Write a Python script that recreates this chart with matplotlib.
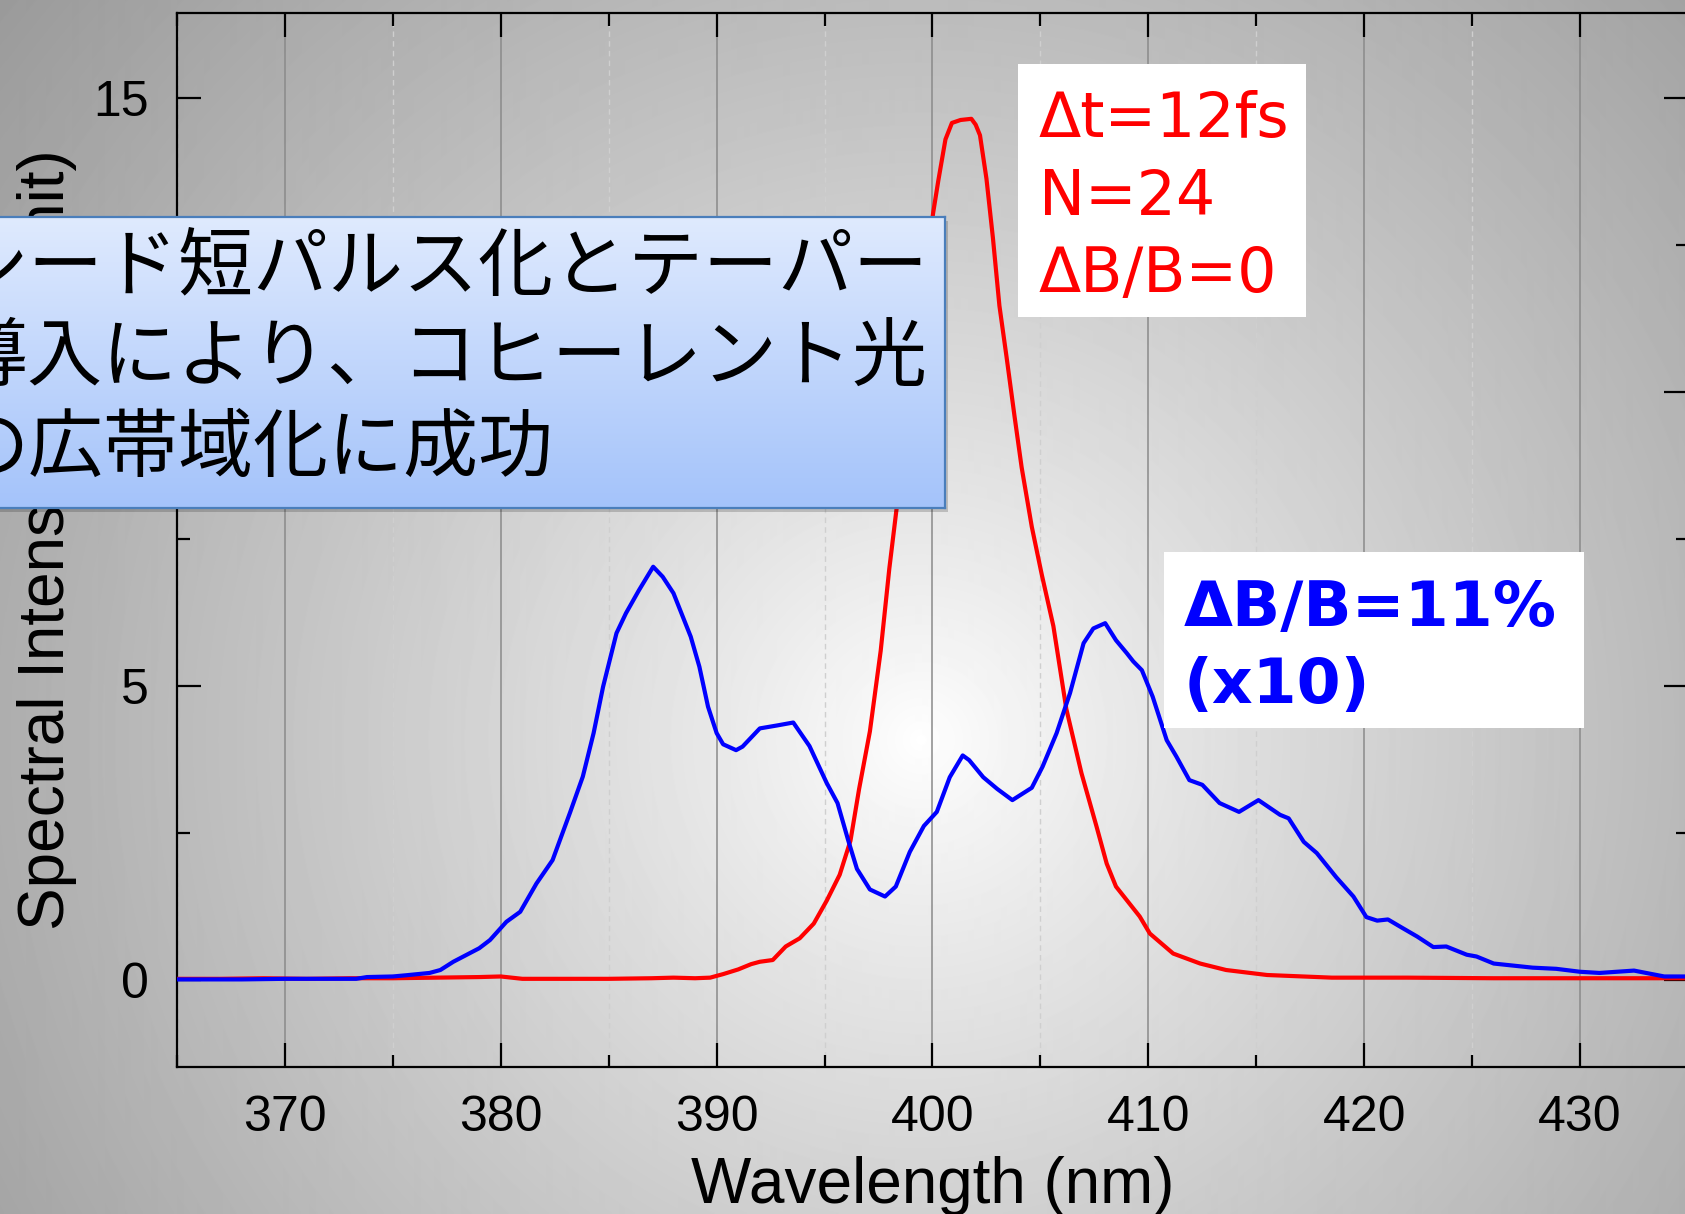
import numpy as np
import matplotlib
matplotlib.use("Agg")
import matplotlib.pyplot as plt
from matplotlib.patches import Rectangle
from matplotlib.ticker import MultipleLocator

# ---------------- data ----------------
red_wl = [365, 367, 369, 371, 373, 375, 377, 379, 380, 381, 383, 385, 387, 388, 389,
          389.7, 390.3, 391, 391.6, 392, 392.6, 393.2, 393.85, 394.5, 395.1, 395.7,
          396.2, 396.6, 397.1, 397.6, 398.0, 398.34, 398.8, 399.2, 399.6, 400.03,
          400.27, 400.6, 400.9, 401.3, 401.8, 402.0, 402.2, 402.5, 402.8, 403.1,
          403.43, 403.8, 404.13, 404.6, 405.06, 405.6, 406.2, 406.9, 407.6, 408.07,
          408.5, 409.6, 410.07, 411.15, 412.4, 413.6, 415.5, 418.5, 422, 426, 430, 435]
red_int = [0.02, 0.02, 0.03, 0.02, 0.03, 0.03, 0.04, 0.05, 0.06, 0.02, 0.02, 0.02, 0.03,
           0.04, 0.03, 0.04, 0.10, 0.18, 0.27, 0.31, 0.34, 0.57, 0.71, 0.96, 1.35, 1.79,
           2.37, 3.25, 4.23, 5.6, 7.0, 8.03, 9.4, 10.6, 11.8, 13.05, 13.6, 14.3, 14.58,
           14.63, 14.65, 14.55, 14.37, 13.63, 12.62, 11.47, 10.6, 9.59, 8.72, 7.71,
           6.9, 6.02, 4.61, 3.52, 2.61, 1.98, 1.59, 1.08, 0.79, 0.45, 0.28, 0.17, 0.085,
           0.04, 0.04, 0.03, 0.03, 0.03]

blue_wl = [365, 368, 370, 372, 373.3, 373.8, 375, 375.6, 376.7, 377.2, 377.8, 379.0,
           379.5, 380.26, 380.9, 381.65, 382.4, 383.2, 383.8, 384.3, 384.74, 385.36,
           385.8, 386.4, 387.06, 387.5, 388.0, 388.8, 389.2, 389.6, 390.0, 390.3, 390.9,
           391.2, 392.0, 392.8, 393.55, 394.3, 395.1, 395.6, 396.1, 396.5, 397.1, 397.8,
           398.3, 398.95, 399.6, 400.2, 400.8, 401.4, 401.7, 402.35, 403.0, 403.7, 404.6,
           405.1, 405.75, 406.37, 407.0, 407.45, 408.0, 408.5, 409.0, 409.3, 409.7,
           410.2, 410.85, 411.3, 411.9, 412.5, 413.3, 414.2, 415.1, 416.1, 416.5, 417.2,
           417.8, 418.7, 419.5, 420.1, 420.6, 421.1, 421.7, 422.45, 423.2, 423.8,
           424.75, 425.2, 426.0, 427.8, 428.9, 430.0, 430.9, 432.5, 433.9, 435]
blue_int = [0.01, 0.01, 0.02, 0.02, 0.02, 0.05, 0.06, 0.08, 0.12, 0.17, 0.31, 0.54,
            0.68, 0.99, 1.16, 1.64, 2.04, 2.84, 3.46, 4.2, 4.99, 5.9, 6.24, 6.63, 7.03,
            6.86, 6.58, 5.84, 5.33, 4.65, 4.2, 4.01, 3.91, 3.97, 4.28, 4.33, 4.38, 3.98,
            3.35, 3.01, 2.37, 1.89, 1.54, 1.42, 1.59, 2.18, 2.62, 2.86, 3.45, 3.82, 3.74,
            3.45, 3.25, 3.06, 3.27, 3.63, 4.2, 4.88, 5.73, 5.98, 6.07, 5.78, 5.56, 5.42,
            5.27, 4.82, 4.08, 3.8, 3.4, 3.32, 3.01, 2.86, 3.06, 2.81, 2.75, 2.35, 2.16,
            1.75, 1.42, 1.07, 1.01, 1.03, 0.9, 0.74, 0.56, 0.57, 0.43, 0.4, 0.28, 0.21,
            0.19, 0.14, 0.12, 0.16, 0.06, 0.06]

x_label = "Wavelength (nm)"
y_label = "Spectral Intensity (arb. unit)"
red_lines = ["\u0394t=12fs", "N=24", "\u0394B/B=0"]
blue_lines = ["\u0394B/B=11%", "(x10)"]
jp_lines = ["シード短パルス化とテーパー", "導入により、コヒーレント光", "の広帯域化に成功"]

# ---------------- figure ----------------
W, H, DPI = 1685, 1214, 100
fig = plt.figure(figsize=(W / DPI, H / DPI), dpi=DPI)


def fx(X):
    return X / W


def fy(Y):
    return 1 - Y / H


# radial grey background
bg = fig.add_axes([0, 0, 1, 1], zorder=-10)
yy, xx = np.mgrid[0:H, 0:W]
r = np.hypot((xx - 920) / 1.0, (yy - 740) / 1.0)
val = 1.0 - 0.40 * np.clip(r / 1200.0, 0, 1) ** 0.85
bg.imshow(val, cmap="gray", vmin=0, vmax=1, extent=[0, 1, 0, 1], aspect="auto",
          interpolation="bilinear")
bg.set_axis_off()

# main axes
ax = fig.add_axes([fx(177), fy(1067), fx(1688) - fx(177), (1067 - 13) / H], zorder=0)
ax.set_facecolor("none")
ax.plot(red_wl, red_int, color="#ff0000", lw=3.0, zorder=3,
        solid_joinstyle="round", solid_capstyle="round")
ax.plot(blue_wl, blue_int, color="#0000ff", lw=3.0, zorder=4,
        solid_joinstyle="round", solid_capstyle="round")
ax.set_xlim(365, 435)
ax.set_ylim(-1.48, 16.45)

ax.xaxis.set_major_locator(MultipleLocator(10))
ax.xaxis.set_minor_locator(MultipleLocator(5))
ax.yaxis.set_major_locator(MultipleLocator(5))
ax.yaxis.set_minor_locator(MultipleLocator(2.5))
ax.tick_params(which="both", direction="in", top=True, right=True, width=1.6,
               colors="black")
ax.tick_params(which="major", length=17, pad=20, labelsize=36)
ax.tick_params(which="minor", length=9)
for lab in ax.get_xticklabels() + ax.get_yticklabels():
    lab.set_fontfamily("Liberation Sans")
for sp in ax.spines.values():
    sp.set_linewidth(1.6)

ax.grid(which="major", axis="x", color="#8a8a8a", lw=1.1, ls="-")
ax.grid(which="minor", axis="x", color="#cfcfcf", lw=1.0, ls=(0, (4, 3)))

ax.set_xlabel(x_label, fontsize=46, family="Liberation Sans", labelpad=11)
ax.set_ylabel(y_label, fontsize=46, family="Liberation Sans", labelpad=12)

# ---------------- Japanese gradient box ----------------
bx0, bx1, by0, by1 = -10, 945, 217, 508
shadow = Rectangle((fx(bx0) + 3 / W, fy(by1) - 4 / H), (bx1 - bx0) / W, (by1 - by0) / H,
                   transform=fig.transFigure, facecolor="black", alpha=0.18,
                   edgecolor="none", zorder=4)
fig.patches.append(shadow)
box = fig.add_axes([fx(bx0), fy(by1), (bx1 - bx0) / W, (by1 - by0) / H], zorder=5)
top_c = np.array([0xdf, 0xea, 0xfe]) / 255.0
bot_c = np.array([0xa4, 0xc3, 0xfa]) / 255.0
t = np.linspace(0, 1, 256)[:, None]
grad = (top_c[None, :] * (1 - t) + bot_c[None, :] * t)[:, None, :]
box.imshow(grad, extent=[0, 1, 0, 1], aspect="auto", interpolation="bilinear")
box.set_xticks([])
box.set_yticks([])
for sp in box.spines.values():
    sp.set_color("#4a7ebb")
    sp.set_linewidth(1.6)

for line, base in zip(jp_lines, [290, 380, 471]):
    fig.text(fx(-47), fy(base), line, fontsize=54, va="baseline", ha="left",
             family=["Noto Sans CJK JP", "DejaVu Sans"], color="black", zorder=6)

# ---------------- red annotation ----------------
fig.patches.append(Rectangle((fx(1018), fy(317)), (1306 - 1018) / W, (317 - 64) / H,
                             transform=fig.transFigure, facecolor="white",
                             edgecolor="none", zorder=5))
for line, base in zip(red_lines, [137, 215, 292]):
    fig.text(fx(1039), fy(base), line, fontsize=44.5, va="baseline", ha="left",
             family="DejaVu Sans", color="#ff0000", zorder=6)

# ---------------- blue annotation ----------------
fig.patches.append(Rectangle((fx(1164), fy(728)), (1584 - 1164) / W, (728 - 552) / H,
                             transform=fig.transFigure, facecolor="white",
                             edgecolor="none", zorder=5))
for line, base in zip(blue_lines, [626, 703]):
    fig.text(fx(1184), fy(base), line, fontsize=45.5, va="baseline", ha="left",
             family="DejaVu Sans", fontweight="bold", color="#0000ff", zorder=6)

fig.savefig("out.png", dpi=DPI)
